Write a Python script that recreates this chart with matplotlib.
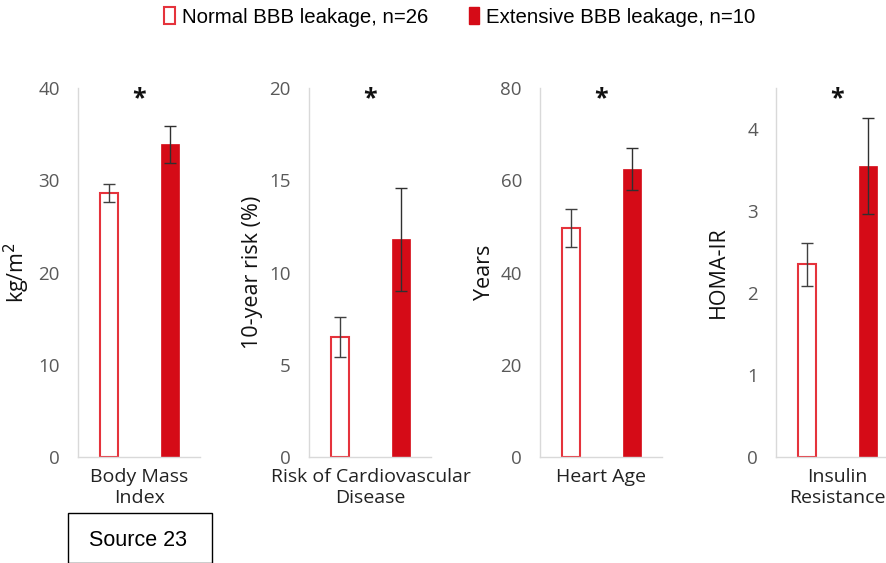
import matplotlib.pyplot as plt
from matplotlib.patches import Patch, Rectangle

# data
groups = ['Normal BBB leakage, n=26', 'Extensive BBB leakage, n=10']
categories = ['Body Mass\nIndex', 'Risk of Cardiovascular\nDisease', 'Heart Age', 'Insulin\nResistance']
ylabels = ['kg/m$^2$', '10-year risk (%)', 'Years', 'HOMA-IR']
normal_mean = [28.6, 6.5, 49.6, 2.35]
normal_err = [1.0, 1.1, 4.1, 0.26]
extensive_mean = [33.9, 11.8, 62.4, 3.55]
extensive_err = [2.0, 2.8, 4.5, 0.59]
ylims = [40, 20, 80, 4.5]
yticks = [[0, 10, 20, 30, 40], [0, 5, 10, 15, 20], [0, 20, 40, 60, 80], [0, 1, 2, 3, 4]]

RED = '#D50B17'
EDGE = '#E5333C'
W, H = 887, 563

plt.rcParams['font.family'] = ['Open Sans', 'DejaVu Sans']

fig = plt.figure(figsize=(W / 100, H / 100), dpi=100)

lefts = [78, 309, 540, 776]
widths = [122, 122, 122, 111]
top, bottom = 88, 457
step = 61.0
label_off = [46, 46, 45, 47]

for i in range(4):
    ax = fig.add_axes([lefts[i] / W, 1 - bottom / H, widths[i] / W, (bottom - top) / H])
    ax.bar(0, normal_mean[i], width=0.31, color='white', edgecolor=EDGE, linewidth=1.5,
           yerr=normal_err[i], error_kw=dict(ecolor='#404040', elinewidth=1, capsize=4, capthick=1))
    ax.bar(1, extensive_mean[i], width=0.31, color=RED, edgecolor=RED, linewidth=0.5,
           yerr=extensive_err[i], error_kw=dict(ecolor='#303030', elinewidth=1, capsize=4, capthick=1))
    ax.set_xlim(-0.508, -0.508 + widths[i] / step)
    ax.set_ylim(0, ylims[i])
    ax.set_yticks(yticks[i])
    ax.set_xticks([0.5])
    ax.set_xticklabels([categories[i]], fontsize=14, color='#222222', linespacing=1.2)
    ax.tick_params(axis='y', length=0, pad=13, labelsize=13.5, labelcolor='#595959')
    ax.tick_params(axis='x', length=0, pad=8)
    for s in ['top', 'right']:
        ax.spines[s].set_visible(False)
    for s in ['left', 'bottom']:
        ax.spines[s].set_color('#D9D9D9')
        ax.spines[s].set_linewidth(1)
    ax.set_ylabel(ylabels[i], fontsize=15.5, color='#111111')
    ax.yaxis.set_label_coords(-label_off[i] / widths[i], 0.5)
    ax.text(0.5, ylims[i] * 0.972, '*', ha='center', va='center', fontsize=18,
            fontweight='bold', color='#111111')

handles = [Patch(facecolor='white', edgecolor=EDGE, linewidth=1.5),
           Patch(facecolor=RED, edgecolor=RED)]
fig.legend(handles, groups, loc='center', bbox_to_anchor=(460 / W, 1 - 17 / H), ncol=2,
           frameon=False, handlelength=0.5, handleheight=0.85, handletextpad=0.35,
           columnspacing=2.0, prop={'family': 'Liberation Sans', 'size': 14.7})

# source box at the bottom left
fig.patches.append(Rectangle((68 / W, 0), (212 - 68) / W, (H - 513) / H, transform=fig.transFigure,
                             facecolor='white', edgecolor='black', linewidth=1))
fig.text(138 / W, 1 - 540 / H, 'Source 23', ha='center', va='center', fontsize=15.5,
         family='Liberation Sans', color='black')

fig.savefig('out.png', dpi=100)
